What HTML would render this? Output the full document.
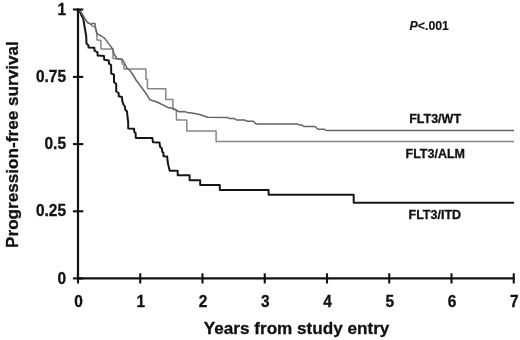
<!DOCTYPE html>
<html>
<head>
<meta charset="utf-8">
<title>Progression-free survival</title>
<style>
html,body{margin:0;padding:0;background:#fff;}
body{width:520px;height:340px;overflow:hidden;}
svg{display:block;}
text{font-family:"Liberation Sans",Arial,sans-serif;font-weight:bold;fill:#111;stroke:#111;stroke-width:0.3px;}
</style>
</head>
<body>
<svg width="520" height="340" viewBox="0 0 520 340">
<rect x="0" y="0" width="520" height="340" fill="#ffffff"/>

<!-- FLT3/ITD curve (black) -->
<polyline fill="none" stroke="#161616" stroke-width="2" stroke-linejoin="round" points="
79,9.6 79.7,10.7 81.2,15 83.2,18.5 84.3,25 86.2,36 86.5,43.6 88.5,45.4 88.5,47.6 94.4,47.8 94.5,50.7 97.6,52.4 97.6,55.4 104,55.9 104.2,59.7 108.8,60.6 109,63.7 111.1,65 111.2,73.5 114,74.7 114,82 116.2,84 116.2,91.5 118.7,93 118.7,96.3 122,97 122.2,100.5 123.4,104.5 125,106.5 125.2,109.5 127,111.5 127.5,117 128.2,122 128.2,128.6 134.1,128.8 134.3,132 135.6,133 135.8,137.9 152.3,137.9 153,142.3 159.5,142.6 160,146.7 161.9,148.5 162.3,152 163.4,152.7 163.5,156.2 167.2,156.5 167.6,161 168.3,165 169.7,170.7 177.7,170.7 177.7,175.3 189.6,175.3 189.6,180.2 200.2,180.2 200.2,185 219.8,185 219.8,189.9 268.6,189.9 268.6,194.8 353.7,194.8 353.7,202.7 514,202.7"/>

<!-- FLT3/ALM curve (light gray) -->
<polyline fill="none" stroke="#868686" stroke-width="1.5" stroke-linejoin="round" points="
79,9.6 80.2,10.7 84.8,18.6 87.3,22.4 91.3,24.6 92.2,26.3 95,26.5 96.9,33.7 97,40.1 100.9,40.3 100.9,49 113,49.1 113,58.6 121.8,59.3 122.2,64 124,64.3 124,69.1 145.9,69.1 146,79.3 147.4,79.5 147.5,88.8 165.8,88.8 165.8,99.4 172.9,99.4 172.9,109.5 176.3,109.6 176.5,120.1 186.8,120.1 186.8,131 216.1,131 216.1,141.6 514,141.6"/>

<!-- FLT3/WT curve (dark gray) -->
<polyline fill="none" stroke="#646464" stroke-width="1.5" stroke-linejoin="round" points="
79,9.6 80.2,10.7 84.8,18.6 87.3,22.4 91.3,24.4 92.5,23.4 95,23.6 95.2,26.5 96.9,33.7 101.2,36 104.7,38.4 110,45.4 113,49.5 114,54 117,58.5 122.5,59.6 125,64 127,68.2 130,70.5 133,75 136,80 142,88 147,95 150,99.8 157,102 160,103.5 167.7,107.4 173,108.3 177,110.7 179.2,111.7 184.5,111.6 187.6,112.5 193.3,113.2 200.6,114.8 207.6,117.2 227.3,117.4 229.6,118.6 234.4,118.6 236.7,120.1 244.9,120.1 247.3,121.2 253.2,121.2 256.1,123.9 297.4,123.9 299.7,125.1 302,125.1 303.8,126.5 315,126.5 318,129.2 323.8,129.2 326.2,130.4 514,130.4"/>

<!-- axes -->
<g stroke="#111111" fill="none">
<line x1="78" y1="8.5" x2="78" y2="279.4" stroke-width="2.2"/>
<line x1="76.9" y1="278.4" x2="514.8" y2="278.4" stroke-width="2.1"/>
<g stroke-width="2.1">
<line x1="72.9" y1="9.5" x2="83.3" y2="9.5"/>
<line x1="72.9" y1="76.9" x2="83.3" y2="76.9"/>
<line x1="72.9" y1="144.1" x2="83.3" y2="144.1"/>
<line x1="72.9" y1="211.3" x2="83.3" y2="211.3"/>
<line x1="72.9" y1="278.4" x2="83.3" y2="278.4"/>
<line x1="78.00" y1="273.3" x2="78.00" y2="283.5"/>
<line x1="140.25" y1="273.3" x2="140.25" y2="283.5"/>
<line x1="202.50" y1="273.3" x2="202.50" y2="283.5"/>
<line x1="264.75" y1="273.3" x2="264.75" y2="283.5"/>
<line x1="327.00" y1="273.3" x2="327.00" y2="283.5"/>
<line x1="389.25" y1="273.3" x2="389.25" y2="283.5"/>
<line x1="451.50" y1="273.3" x2="451.50" y2="283.5"/>
<line x1="513.75" y1="273.3" x2="513.75" y2="283.5"/>
</g>
</g>

<!-- y tick labels -->
<g font-size="16" text-anchor="end">
<text transform="translate(66,14.9) scale(0.965,1)">1</text>
<text transform="translate(66,81.6) scale(0.965,1)">0.75</text>
<text transform="translate(66,149.3) scale(0.965,1)">0.5</text>
<text transform="translate(66,216.0) scale(0.965,1)">0.25</text>
<text transform="translate(66,283.6) scale(0.965,1)">0</text>
</g>

<!-- x tick labels -->
<g font-size="16" text-anchor="middle">
<text transform="translate(78.60,306.7) scale(0.965,1)">0</text>
<text transform="translate(140.85,306.7) scale(0.965,1)">1</text>
<text transform="translate(203.10,306.7) scale(0.965,1)">2</text>
<text transform="translate(265.35,306.7) scale(0.965,1)">3</text>
<text transform="translate(327.60,306.7) scale(0.965,1)">4</text>
<text transform="translate(389.85,306.7) scale(0.965,1)">5</text>
<text transform="translate(452.10,306.7) scale(0.965,1)">6</text>
<text transform="translate(514.35,306.7) scale(0.965,1)">7</text>
</g>

<!-- axis titles -->
<text x="296.6" y="333.8" font-size="17.3" text-anchor="middle" textLength="185.6" lengthAdjust="spacingAndGlyphs">Years from study entry</text>
<text transform="translate(17.6,144.6) rotate(-90)" font-size="17.15" text-anchor="middle">Progression-free survival</text>

<!-- annotations -->
<text x="409.6" y="29.8" font-size="12.3" style="stroke-width:0.1px"><tspan font-style="italic">P</tspan>&lt;.001</text>
<text x="409.2" y="123.4" font-size="12.5">FLT3/WT</text>
<text x="405.5" y="157.6" font-size="12.5">FLT3/ALM</text>
<text x="408.5" y="218.5" font-size="12.5">FLT3/ITD</text>
</svg>
</body>
</html>
